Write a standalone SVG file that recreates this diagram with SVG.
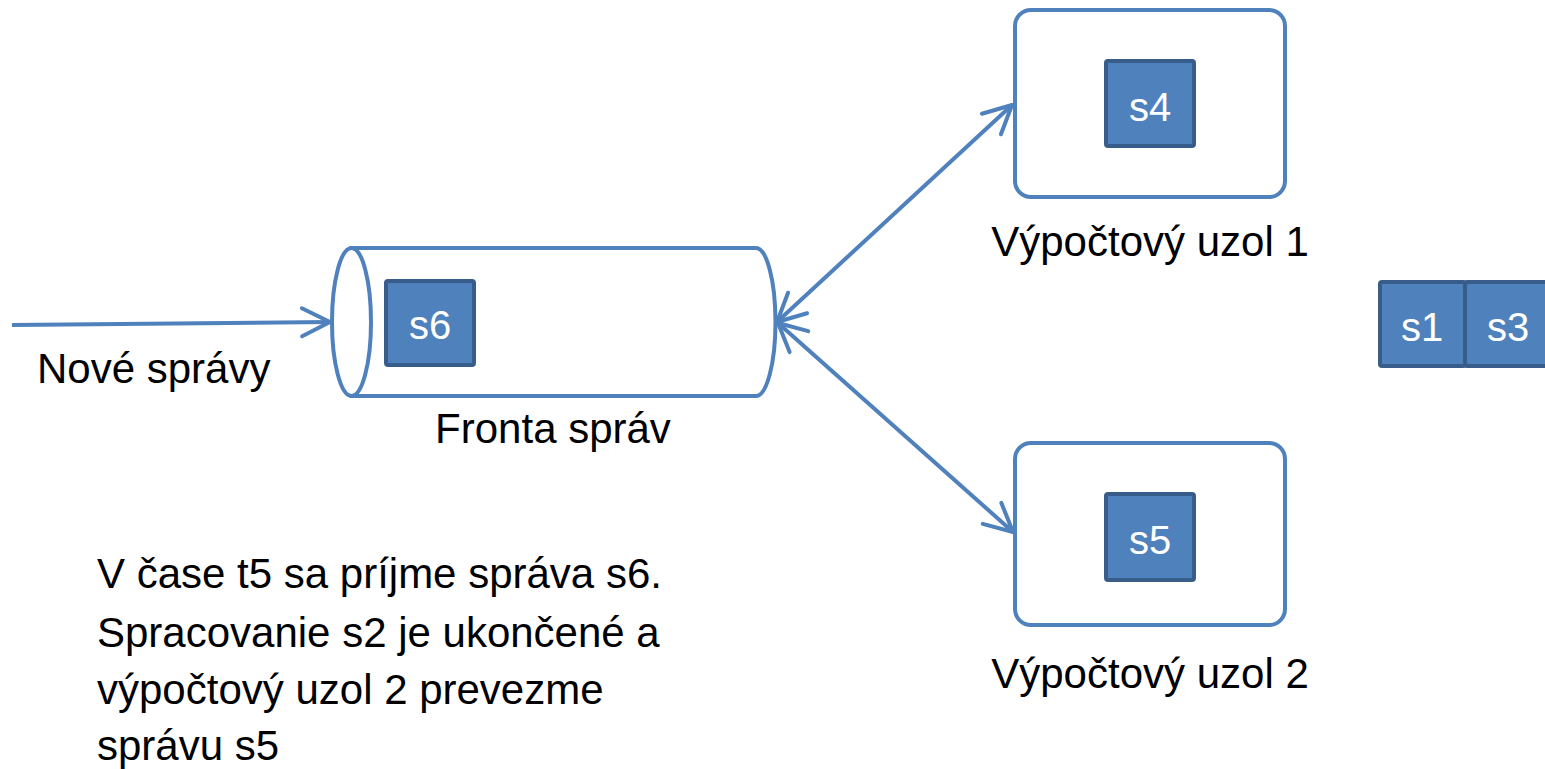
<svg xmlns="http://www.w3.org/2000/svg" width="1545" height="769" viewBox="0 0 1545 769">
  <defs>
    <style>
      .lbl { font-family: "Liberation Sans", Arial, sans-serif; font-size: 42px; fill: #000; }
      .msgtxt { font-family: "Liberation Sans", Arial, sans-serif; font-size: 40px; fill: #fff; text-anchor: middle; }
      .msg { fill: #4f81bd; stroke: #385d8a; stroke-width: 4; }
      .outline { fill: #fff; stroke: #4f81bd; stroke-width: 4; }
      .conn { fill: none; stroke: #4f81bd; stroke-width: 4; }
    </style>
    <marker id="head" markerUnits="userSpaceOnUse" markerWidth="40" markerHeight="40" viewBox="-34 -20 40 40" refX="0" refY="0" orient="auto-start-reverse" overflow="visible">
      <path d="M -28 -14 L 0 0 L -28 14" fill="none" stroke="#4f81bd" stroke-width="4" stroke-linecap="round" stroke-linejoin="round"/>
    </marker>
  </defs>

  <!-- connectors -->
  <g id="connectors">
    <line class="conn" x1="12" y1="325" x2="330" y2="322" marker-end="url(#head)"/>
    <line class="conn" x1="777" y1="322" x2="1012" y2="105" marker-start="url(#head)" marker-end="url(#head)"/>
    <line class="conn" x1="778" y1="323" x2="1013" y2="532" marker-start="url(#head)" marker-end="url(#head)"/>
  </g>

  <!-- message queue -->
  <g id="queue">
    <path class="outline" d="M 351.5 248 L 756 248 A 19.5 74 0 0 1 756 396 L 351.5 396 Z"/>
    <ellipse class="outline" cx="351.5" cy="322" rx="19.5" ry="74"/>
    <rect class="msg" x="386" y="281" width="88" height="84" rx="2"/>
    <text class="msgtxt" x="430" y="339">s6</text>
    <text class="lbl" x="553" y="443" text-anchor="middle">Fronta správ</text>
  </g>

  <!-- incoming label -->
  <g id="incoming">
    <text class="lbl" x="37" y="383">Nové správy</text>
  </g>

  <!-- compute node 1 -->
  <g id="node1">
    <rect class="outline" x="1015" y="10" width="270" height="187" rx="16"/>
    <rect class="msg" x="1106" y="61" width="88" height="85" rx="2"/>
    <text class="msgtxt" x="1150" y="121">s4</text>
    <text class="lbl" x="1150" y="256" text-anchor="middle">Výpočtový uzol 1</text>
  </g>

  <!-- compute node 2 -->
  <g id="node2">
    <rect class="outline" x="1015" y="443" width="270" height="182" rx="16"/>
    <rect class="msg" x="1106" y="494" width="88" height="86" rx="2"/>
    <text class="msgtxt" x="1150" y="554">s5</text>
    <text class="lbl" x="1150" y="688" text-anchor="middle">Výpočtový uzol 2</text>
  </g>

  <!-- finished messages -->
  <g id="done">
    <rect class="msg" x="1380" y="282" width="85" height="84" rx="2"/>
    <rect class="msg" x="1465" y="282" width="85" height="84" rx="2"/>
    <text class="msgtxt" x="1422" y="341">s1</text>
    <text class="msgtxt" x="1508" y="341">s3</text>
  </g>

  <!-- description -->
  <g id="note">
    <text class="lbl" x="97" y="588">V čase t5 sa príjme správa s6.</text>
    <text class="lbl" x="97" y="647">Spracovanie s2 je ukončené a</text>
    <text class="lbl" x="97" y="704">výpočtový uzol 2 prevezme</text>
    <text class="lbl" x="97" y="760">správu s5</text>
  </g>
</svg>
